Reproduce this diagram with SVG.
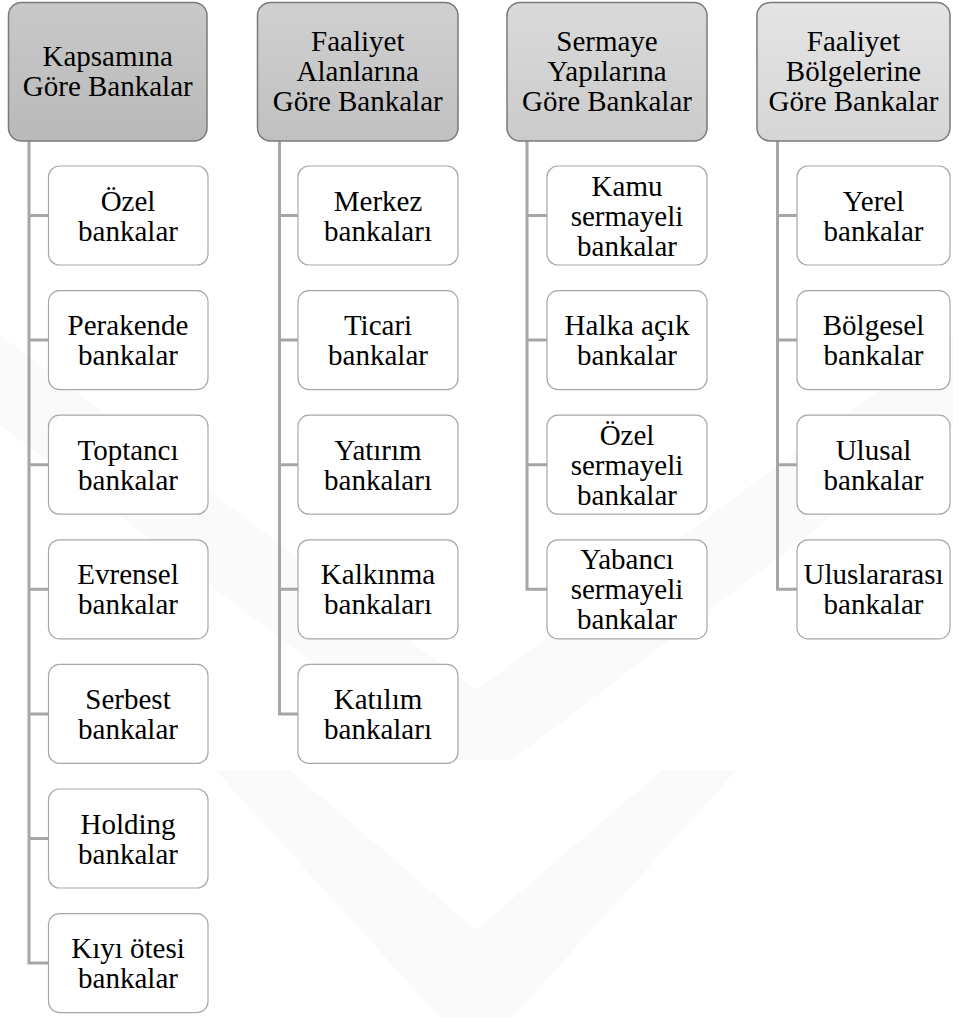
<svg xmlns="http://www.w3.org/2000/svg" width="953" height="1018" viewBox="0 0 953 1018">
  <defs>
    <linearGradient id="g1" x1="0" y1="0" x2="0" y2="1">
      <stop offset="0" stop-color="#c9c9c9"/>
      <stop offset="1" stop-color="#b9b9b9"/>
    </linearGradient>
    <linearGradient id="g2" x1="0" y1="0" x2="0" y2="1">
      <stop offset="0" stop-color="#d0d0d0"/>
      <stop offset="1" stop-color="#c0c0c0"/>
    </linearGradient>
    <linearGradient id="g3" x1="0" y1="0" x2="0" y2="1">
      <stop offset="0" stop-color="#dadada"/>
      <stop offset="1" stop-color="#cbcbcb"/>
    </linearGradient>
    <linearGradient id="g4" x1="0" y1="0" x2="0" y2="1">
      <stop offset="0" stop-color="#e4e4e4"/>
      <stop offset="1" stop-color="#d6d6d6"/>
    </linearGradient>
  </defs>
  <style>
    .t { font-family: "Liberation Serif", "Times New Roman", serif; font-size: 29px; fill: #000; text-anchor: middle; }
    .head { stroke: #7a7a7a; stroke-width: 1.5; }
    .child { fill: #fff; stroke: #a8a8a8; stroke-width: 1.2; }
    .conn { fill: none; stroke: #a6a6a6; stroke-width: 3; stroke-linejoin: miter; }
    .wm { fill: #000; opacity: 0.018; }
  </style>
  <rect width="953" height="1018" fill="#fff"/>

  <!-- faint background emblem -->
  <g id="emblem">
    <polygon class="wm" points="0,335 0,425 440,760 476,760 476,690"/>
    <polygon class="wm" points="953,335 953,425 512,760 476,760 476,690"/>
    <polygon class="wm" points="215,770 290,770 476,930 476,1018 440,1018"/>
    <polygon class="wm" points="737,770 662,770 476,930 476,1018 512,1018"/>
  </g>

  <!-- connectors -->
  <g id="connectors" class="conn">
    <path d="M29 141 V963.1 H48.5 M29 215.5 H48.5 M29 340.1 H48.5 M29 464.7 H48.5 M29 589.3 H48.5 M29 713.9 H48.5 M29 838.5 H48.5"/>
    <path d="M279.5 141 V713.9 H298 M279.5 215.5 H298 M279.5 340.1 H298 M279.5 464.7 H298 M279.5 589.3 H298"/>
    <path d="M527 141 V589.3 H547 M527 215.5 H547 M527 340.1 H547 M527 464.7 H547"/>
    <path d="M777.5 141 V589.3 H797 M777.5 215.5 H797 M777.5 340.1 H797 M777.5 464.7 H797"/>
  </g>

  <!-- column 1 -->
  <g id="kapsam">
    <rect class="head" x="8.5" y="2.5" width="198.5" height="138.5" rx="13" fill="url(#g1)"/>
    <text class="t" x="107.75" y="66">Kapsamına</text>
    <text class="t" x="107.75" y="96">Göre Bankalar</text>
  </g>
  <g id="ozel"><rect class="child" x="48.5" y="166" width="159.5" height="99" rx="11"/><text class="t" x="128" y="210.5">Özel</text><text class="t" x="128" y="240.5">bankalar</text></g>
  <g id="perakende"><rect class="child" x="48.5" y="290.6" width="159.5" height="99" rx="11"/><text class="t" x="128" y="335.1">Perakende</text><text class="t" x="128" y="365.1">bankalar</text></g>
  <g id="toptanci"><rect class="child" x="48.5" y="415.2" width="159.5" height="99" rx="11"/><text class="t" x="128" y="459.7">Toptancı</text><text class="t" x="128" y="489.7">bankalar</text></g>
  <g id="evrensel"><rect class="child" x="48.5" y="539.8" width="159.5" height="99" rx="11"/><text class="t" x="128" y="584.3">Evrensel</text><text class="t" x="128" y="614.3">bankalar</text></g>
  <g id="serbest"><rect class="child" x="48.5" y="664.4" width="159.5" height="99" rx="11"/><text class="t" x="128" y="708.9">Serbest</text><text class="t" x="128" y="738.9">bankalar</text></g>
  <g id="holding"><rect class="child" x="48.5" y="789" width="159.5" height="99" rx="11"/><text class="t" x="128" y="833.5">Holding</text><text class="t" x="128" y="863.5">bankalar</text></g>
  <g id="kiyi"><rect class="child" x="48.5" y="913.6" width="159.5" height="99" rx="11"/><text class="t" x="128" y="958.1">Kıyı ötesi</text><text class="t" x="128" y="988.1">bankalar</text></g>

  <!-- column 2 -->
  <g id="faaliyet-alan">
    <rect class="head" x="257.5" y="2.5" width="200.5" height="138.5" rx="13" fill="url(#g2)"/>
    <text class="t" x="357.75" y="51">Faaliyet</text>
    <text class="t" x="357.75" y="81">Alanlarına</text>
    <text class="t" x="357.75" y="111">Göre Bankalar</text>
  </g>
  <g id="merkez"><rect class="child" x="298" y="166" width="160" height="99" rx="11"/><text class="t" x="378" y="210.5">Merkez</text><text class="t" x="378" y="240.5">bankaları</text></g>
  <g id="ticari"><rect class="child" x="298" y="290.6" width="160" height="99" rx="11"/><text class="t" x="378" y="335.1">Ticari</text><text class="t" x="378" y="365.1">bankalar</text></g>
  <g id="yatirim"><rect class="child" x="298" y="415.2" width="160" height="99" rx="11"/><text class="t" x="378" y="459.7">Yatırım</text><text class="t" x="378" y="489.7">bankaları</text></g>
  <g id="kalkinma"><rect class="child" x="298" y="539.8" width="160" height="99" rx="11"/><text class="t" x="378" y="584.3">Kalkınma</text><text class="t" x="378" y="614.3">bankaları</text></g>
  <g id="katilim"><rect class="child" x="298" y="664.4" width="160" height="99" rx="11"/><text class="t" x="378" y="708.9">Katılım</text><text class="t" x="378" y="738.9">bankaları</text></g>

  <!-- column 3 -->
  <g id="sermaye">
    <rect class="head" x="507" y="2.5" width="200" height="138.5" rx="13" fill="url(#g3)"/>
    <text class="t" x="607" y="51">Sermaye</text>
    <text class="t" x="607" y="81">Yapılarına</text>
    <text class="t" x="607" y="111">Göre Bankalar</text>
  </g>
  <g id="kamu"><rect class="child" x="547" y="166" width="160" height="99" rx="11"/><text class="t" x="627" y="195.5">Kamu</text><text class="t" x="627" y="225.5">sermayeli</text><text class="t" x="627" y="255.5">bankalar</text></g>
  <g id="halka"><rect class="child" x="547" y="290.6" width="160" height="99" rx="11"/><text class="t" x="627" y="335.1">Halka açık</text><text class="t" x="627" y="365.1">bankalar</text></g>
  <g id="ozel-sermaye"><rect class="child" x="547" y="415.2" width="160" height="99" rx="11"/><text class="t" x="627" y="444.7">Özel</text><text class="t" x="627" y="474.7">sermayeli</text><text class="t" x="627" y="504.7">bankalar</text></g>
  <g id="yabanci"><rect class="child" x="547" y="539.8" width="160" height="99" rx="11"/><text class="t" x="627" y="569.3">Yabancı</text><text class="t" x="627" y="599.3">sermayeli</text><text class="t" x="627" y="629.3">bankalar</text></g>

  <!-- column 4 -->
  <g id="faaliyet-bolge">
    <rect class="head" x="757" y="2.5" width="193" height="138.5" rx="13" fill="url(#g4)"/>
    <text class="t" x="853.5" y="51">Faaliyet</text>
    <text class="t" x="853.5" y="81">Bölgelerine</text>
    <text class="t" x="853.5" y="111">Göre Bankalar</text>
  </g>
  <g id="yerel"><rect class="child" x="797" y="166" width="153" height="99" rx="11"/><text class="t" x="873.5" y="210.5">Yerel</text><text class="t" x="873.5" y="240.5">bankalar</text></g>
  <g id="bolgesel"><rect class="child" x="797" y="290.6" width="153" height="99" rx="11"/><text class="t" x="873.5" y="335.1">Bölgesel</text><text class="t" x="873.5" y="365.1">bankalar</text></g>
  <g id="ulusal"><rect class="child" x="797" y="415.2" width="153" height="99" rx="11"/><text class="t" x="873.5" y="459.7">Ulusal</text><text class="t" x="873.5" y="489.7">bankalar</text></g>
  <g id="uluslararasi"><rect class="child" x="797" y="539.8" width="153" height="99" rx="11"/><text class="t" x="873.5" y="584.3">Uluslararası</text><text class="t" x="873.5" y="614.3">bankalar</text></g>
</svg>
